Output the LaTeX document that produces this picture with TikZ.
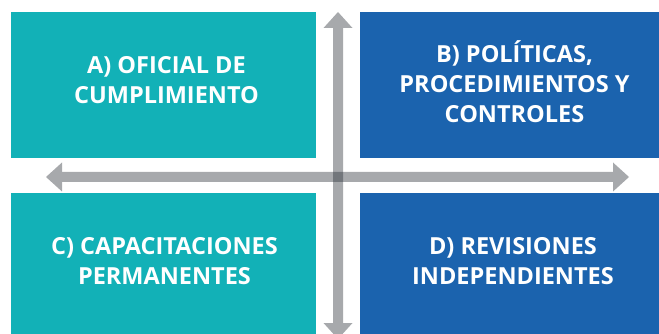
\documentclass[tikz,border=0pt]{standalone}
\usepackage{fontspec}
\setmainfont{Open Sans}
\usetikzlibrary{arrows.meta}

\definecolor{tealfill}{RGB}{18,177,183}
\definecolor{bluefill}{RGB}{27,99,174}
\definecolor{axisgray}{RGB}{35,40,48}

\tikzset{
  quadrant/.style={rectangle, inner sep=0pt, minimum width=305pt, minimum height=146pt},
  quadtext/.style={text=white, align=center, inner sep=0pt,
    font=\fontsize{23.5}{30}\selectfont\bfseries},
  axisarrow/.style={draw=axisgray, fill=axisgray, line width=10pt,
    {Triangle[width=29pt,length=16pt,line width=0pt]}-{Triangle[width=29pt,length=16pt,line width=0pt]}}
}

\begin{document}
\begin{tikzpicture}[x=1pt, y=-1pt]
\clip (0, 0) rectangle (659, 334);

% the four quadrants
\node[quadrant, fill=tealfill] (qa) at (163.5, 85) {};
\node[quadrant, fill=bluefill] (qb) at (512.5, 85) {};
\node[quadrant, fill=tealfill, minimum height=150pt] (qc) at (163.5, 268) {};
\node[quadrant, fill=bluefill, minimum height=150pt] (qd) at (512.5, 268) {};

\node[quadtext] (ta) at (166.5, 80) {A) OFICIAL DE\\CUMPLIMIENTO};
\node[quadtext] (tb) at (514.5, 82) {B) POLÍTICAS,\\PROCEDIMIENTOS Y\\CONTROLES};
\node[quadtext] (tc) at (164.5, 261) {C) CAPACITACIONES\\PERMANENTES};
\node[quadtext] (td) at (513, 261) {D) REVISIONES\\INDEPENDIENTES};

% axes
\coordinate (west) at (46, 177);
\coordinate (east) at (629, 177);
\coordinate (north) at (338, 12);
\coordinate (south) at (338, 339);

\begin{scope}[transparency group, opacity=0.4]
\draw[axisarrow] (west) -- (east);
\end{scope}
\begin{scope}[transparency group, opacity=0.4]
\draw[axisarrow] (north) -- (south);
\end{scope}
\end{tikzpicture}
\end{document}
